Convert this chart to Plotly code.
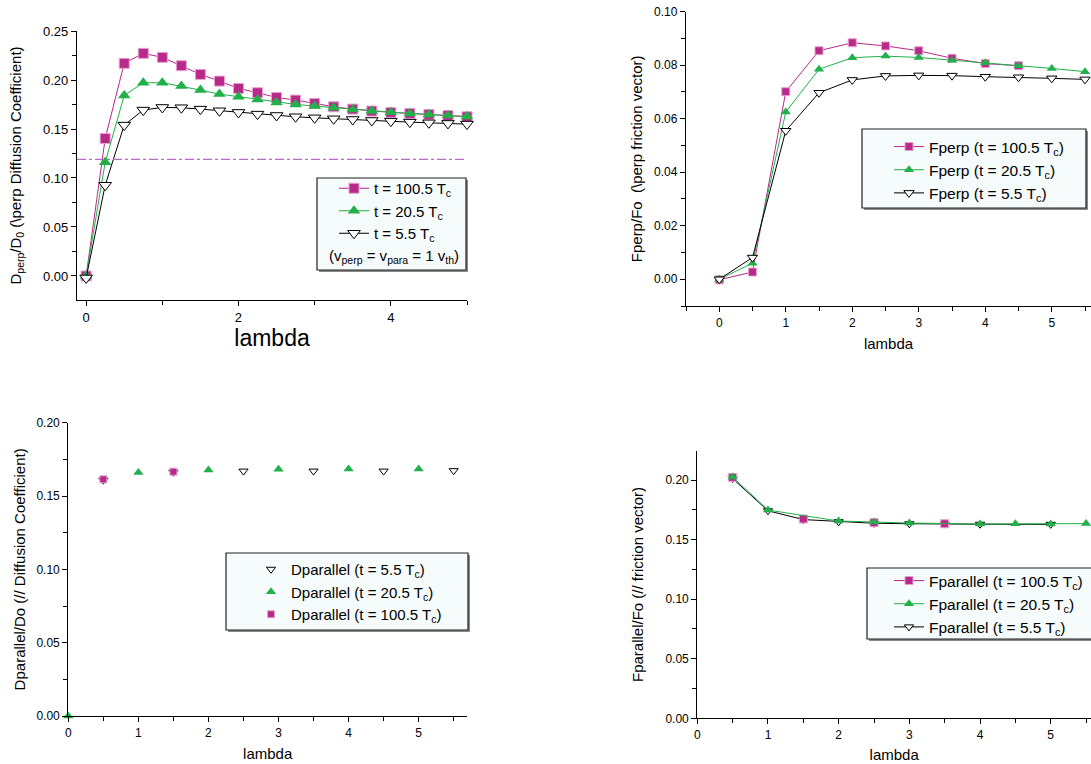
import plotly.graph_objects as go

FONT = "Arial, Liberation Sans, sans-serif"
MAG = "#B8298A"
MAG_EDGE = "#E6A3CF"
GRN = "#22B04B"
BLK = "#000000"

# ---------------- Panel 1: D_perp ----------------
lam1 = [0, 0.25, 0.5, 0.75, 1.0, 1.25, 1.5, 1.75, 2.0, 2.25, 2.5, 2.75,
        3.0, 3.25, 3.5, 3.75, 4.0, 4.25, 4.5, 4.75, 5.0]
dperp_100 = [0.000, 0.1403, 0.2170, 0.2272, 0.2231, 0.2146, 0.2057, 0.1989, 0.1914, 0.1870, 0.1822,
             0.1795, 0.1761, 0.1727, 0.1703, 0.1683, 0.1669, 0.1659, 0.1649, 0.1638, 0.1625]
dperp_20 = [0.000, 0.1160, 0.1843, 0.1972, 0.1972, 0.1938, 0.1897, 0.1856, 0.1829, 0.1802, 0.1771,
            0.1751, 0.1734, 0.1717, 0.1700, 0.1683, 0.1672, 0.1659, 0.1649, 0.1638, 0.1628]
dperp_5 = [-0.002, 0.0926, 0.1540, 0.1693, 0.1720, 0.1717, 0.1703, 0.1686, 0.1669, 0.1652, 0.1638,
           0.1625, 0.1614, 0.1604, 0.1597, 0.1587, 0.1580, 0.1570, 0.1563, 0.1557, 0.1550]
REF_LEVEL = 0.119

# ---------------- Panel 2: F_perp ----------------
lam2 = [0, 0.5, 1.0, 1.5, 2.0, 2.5, 3.0, 3.5, 4.0, 4.5, 5.0, 5.5]
fperp_100 = [-0.0002, 0.0027, 0.0701, 0.0854, 0.0884, 0.0872, 0.0854, 0.0826, 0.0806, 0.0798]
fperp_20 = [0.000, 0.0060, 0.0625, 0.0785, 0.0828, 0.0834, 0.0829, 0.0819, 0.0809, 0.0798, 0.0788, 0.0776]
fperp_5 = [0.000, 0.0081, 0.0555, 0.0697, 0.0745, 0.0760, 0.0762, 0.0761, 0.0757, 0.0755, 0.0751, 0.0747]

# ---------------- Panel 3: D_parallel ----------------
lam3_5 = [0.5, 1.5, 2.5, 3.5, 4.5, 5.5]
dpar_5 = [0.1608, 0.1662, 0.1670, 0.1670, 0.1670, 0.1673]
lam3_20 = [0, 1.0, 2.0, 3.0, 4.0, 5.0]
dpar_20 = [0.000, 0.1661, 0.1677, 0.1682, 0.1684, 0.1684]
lam3_100 = [0.5, 1.5]
dpar_100 = [0.1614, 0.1666]

# ---------------- Panel 4: F_parallel ----------------
lam4_5 = [0.5, 1.0, 1.5, 2.0, 2.5, 3.0, 3.5, 4.0, 5.0]
fpar_5 = [0.2012, 0.1742, 0.1668, 0.1650, 0.1637, 0.1633, 0.1630, 0.1629, 0.1628]
lam4_100 = [0.5, 1.5, 2.5, 3.5]
fpar_100 = [0.2022, 0.1673, 0.1642, 0.1633]
lam4_20 = [0.5, 1.0, 2.0, 2.5, 3.0, 4.0, 4.5, 5.0, 5.5]
fpar_20 = [0.2025, 0.1748, 0.1656, 0.1648, 0.1639, 0.1631, 0.1633, 0.1631, 0.1634]

fig = go.Figure()


def sq(size):
    return dict(symbol="square", size=size, color=MAG, line=dict(color=MAG_EDGE, width=1))


def tri(size):
    return dict(symbol="triangle-up", size=size, color=GRN, line=dict(color=GRN, width=0))


def dtri(size):
    return dict(symbol="triangle-down", size=size, color="white", line=dict(color=BLK, width=1))


# Panel 1
fig.add_trace(go.Scatter(x=lam1, y=dperp_100, mode="lines+markers", name="t = 100.5 T<sub>c</sub>",
                         line=dict(color=MAG, width=1), marker=sq(10), xaxis="x", yaxis="y",
                         legend="legend", cliponaxis=False))
fig.add_trace(go.Scatter(x=lam1, y=dperp_20, mode="lines+markers", name="t = 20.5 T<sub>c</sub>",
                         line=dict(color=GRN, width=1), marker=tri(11), xaxis="x", yaxis="y",
                         legend="legend", cliponaxis=False))
fig.add_trace(go.Scatter(x=lam1, y=dperp_5, mode="lines+markers", name="t = 5.5 T<sub>c</sub>",
                         line=dict(color=BLK, width=1), marker=dtri(11), xaxis="x", yaxis="y",
                         legend="legend", cliponaxis=False))

# Panel 2
fig.add_trace(go.Scatter(x=lam2[:len(fperp_100)], y=fperp_100, mode="lines+markers",
                         name="Fperp (t = 100.5 T<sub>c</sub>)",
                         line=dict(color=MAG, width=1), marker=sq(8), xaxis="x2", yaxis="y2",
                         legend="legend2", cliponaxis=False))
fig.add_trace(go.Scatter(x=lam2, y=fperp_20, mode="lines+markers", name="Fperp (t = 20.5 T<sub>c</sub>)",
                         line=dict(color=GRN, width=1), marker=tri(9), xaxis="x2", yaxis="y2",
                         legend="legend2", cliponaxis=False))
fig.add_trace(go.Scatter(x=lam2, y=fperp_5, mode="lines+markers", name="Fperp (t = 5.5 T<sub>c</sub>)",
                         line=dict(color=BLK, width=1), marker=dtri(9), xaxis="x2", yaxis="y2",
                         legend="legend2", cliponaxis=False))

# Panel 3
fig.add_trace(go.Scatter(x=lam3_5, y=dpar_5, mode="markers", name="Dparallel (t = 5.5 T<sub>c</sub>)",
                         marker=dtri(8), xaxis="x3", yaxis="y3", legend="legend3", cliponaxis=False))
fig.add_trace(go.Scatter(x=lam3_20, y=dpar_20, mode="markers", name="Dparallel (t = 20.5 T<sub>c</sub>)",
                         marker=tri(9), xaxis="x3", yaxis="y3", legend="legend3", cliponaxis=False))
fig.add_trace(go.Scatter(x=lam3_100, y=dpar_100, mode="markers", name="Dparallel (t = 100.5 T<sub>c</sub>)",
                         marker=sq(7), xaxis="x3", yaxis="y3", legend="legend3", cliponaxis=False))

# Panel 4 (drawn black, magenta, green; legend magenta, green, black)
fig.add_trace(go.Scatter(x=lam4_5, y=fpar_5, mode="lines+markers", name="Fparallel (t = 5.5 T<sub>c</sub>)",
                         line=dict(color=BLK, width=1), marker=dtri(8), xaxis="x4", yaxis="y4",
                         legend="legend4", legendrank=3, cliponaxis=False))
fig.add_trace(go.Scatter(x=lam4_100, y=fpar_100, mode="markers", name="Fparallel (t = 100.5 T<sub>c</sub>)",
                         marker=sq(8), xaxis="x4", yaxis="y4",
                         legend="legend4", legendrank=1, showlegend=False, cliponaxis=False))
fig.add_trace(go.Scatter(x=[None], y=[None], mode="lines+markers", name="Fparallel (t = 100.5 T<sub>c</sub>)",
                         line=dict(color=MAG, width=1), marker=sq(8), xaxis="x4", yaxis="y4",
                         legend="legend4", legendrank=1))
fig.add_trace(go.Scatter(x=lam4_20, y=fpar_20, mode="lines+markers", name="Fparallel (t = 20.5 T<sub>c</sub>)",
                         line=dict(color=GRN, width=1), marker=tri(9), xaxis="x4", yaxis="y4",
                         legend="legend4", legendrank=2, cliponaxis=False))

W, H = 1091, 764


def px(v):
    return v / W


def py(v):
    return 1 - v / H


def xax(domain, rng, dtick, mdtick, title, tsize, ticksize, anchor, standoff):
    return dict(domain=domain, range=rng, dtick=dtick, tick0=0, showgrid=False, zeroline=False,
                showline=True, linecolor="black", linewidth=1.3, ticks="outside", ticklen=5,
                tickcolor="black", tickwidth=1, automargin=False,
                minor=dict(dtick=mdtick, tick0=0, ticks="outside", ticklen=4, tickcolor="black"),
                tickfont=dict(family=FONT, size=ticksize, color="black"),
                title=dict(text=title, font=dict(family=FONT, size=tsize, color="black"), standoff=standoff),
                anchor=anchor)


def yax(domain, rng, dtick, mdtick, title, tsize, ticksize, anchor, standoff):
    return dict(domain=domain, range=rng, dtick=dtick, tick0=0, showgrid=False, zeroline=False,
                showline=True, linecolor="black", linewidth=1.3, ticks="outside", ticklen=5,
                tickcolor="black", tickwidth=1, tickformat=".2f", automargin=False,
                minor=dict(dtick=mdtick, tick0=0, ticks="outside", ticklen=4, tickcolor="black"),
                tickfont=dict(family=FONT, size=ticksize, color="black"),
                title=dict(text=title, font=dict(family=FONT, size=tsize, color="black"), standoff=standoff),
                anchor=anchor)


leg_common = dict(bgcolor="rgba(0,0,0,0)", borderwidth=0,
                  xanchor="left", yanchor="top", itemclick=False, tracegroupgap=0)

fig.update_layout(
    width=W, height=H, margin=dict(l=0, r=0, t=0, b=0, autoexpand=False),
    paper_bgcolor="white", plot_bgcolor="white",
    font=dict(family=FONT, color="black"),
    xaxis=xax([px(77), px(467)], [-0.12, 5.0], 2, 1, "lambda", 23, 13, "y", 4),
    yaxis=yax([py(300), py(31)], [-0.0245, 0.25], 0.05, 0.025,
              "D<sub>perp</sub>/D<sub>0</sub> (\\perp Diffusion Coefficient)", 15, 13, "x", 17),
    xaxis2=xax([px(686), 1.0], [-0.5, 5.59], 1, 0.5, "lambda", 15, 12, "y2", 9),
    yaxis2=yax([py(306), py(11.7)], [-0.01, 0.10], 0.02, 0.01,
               "Fperp/Fo \u00a0(\\perp friction vector)", 15, 12, "x2", 7),
    xaxis3=xax([px(68.3), px(467)], [0, 5.69], 1, 0.5, "lambda", 15, 12, "y3", 9),
    yaxis3=yax([py(716), py(422.7)], [0, 0.20], 0.05, 0.025,
               "Dparallel/Do (// Diffusion Coefficient)", 15, 12, "x3", 7),
    xaxis4=xax([px(697.3), 1.0], [0, 5.57], 1, 0.5, "lambda", 15, 12, "y4", 8),
    yaxis4=yax([py(718.3), py(450.7)], [0, 0.2246], 0.05, 0.025,
               "Fparallel/Fo (// friction vector)", 15, 12, "x4", 18),
    legend=dict(x=px(334), y=py(172), font=dict(family=FONT, size=15, color="black"), **leg_common),
    legend2=dict(x=px(889), y=py(130), font=dict(family=FONT, size=15.5, color="black"), **leg_common),
    legend3=dict(x=px(251), y=py(553), font=dict(family=FONT, size=15, color="black"), **leg_common),
    legend4=dict(x=px(889), y=py(564), font=dict(family=FONT, size=15.5, color="black"), **leg_common),
    showlegend=True,
)

fig.add_shape(type="line", xref="x domain", yref="y", x0=0, x1=1, y0=REF_LEVEL, y1=REF_LEVEL,
              line=dict(color="#B86CC8", width=1.1, dash="dashdot"))

# legend frames (decoration)
for (l, t, r, b) in [(317, 178, 466, 270), (862, 129, 1086, 208), (226, 553, 468, 630), (867, 568, 1100, 639)]:
    fig.add_shape(type="rect", xref="paper", yref="paper", x0=px(l + 2), x1=px(r + 2), y0=py(b + 2), y1=py(t + 2),
                  line=dict(width=0), fillcolor="#8a8a8a", layer="above")
    fig.add_shape(type="rect", xref="paper", yref="paper", x0=px(l), x1=px(r), y0=py(b), y1=py(t),
                  line=dict(color="#222222", width=1.2), fillcolor="#F6FBFB", layer="above")

fig.add_annotation(xref="paper", yref="paper", x=px(327), y=py(257), xanchor="left", yanchor="middle",
                   text="(v<sub>perp</sub> = v<sub>para</sub> = 1 v<sub>th</sub>)", showarrow=False,
                   font=dict(family=FONT, size=15, color="black"))

fig.write_html("out.html", config={"displayModeBar": False},
               post_script="document.body.style.margin='0px';document.body.style.overflow='hidden';")
